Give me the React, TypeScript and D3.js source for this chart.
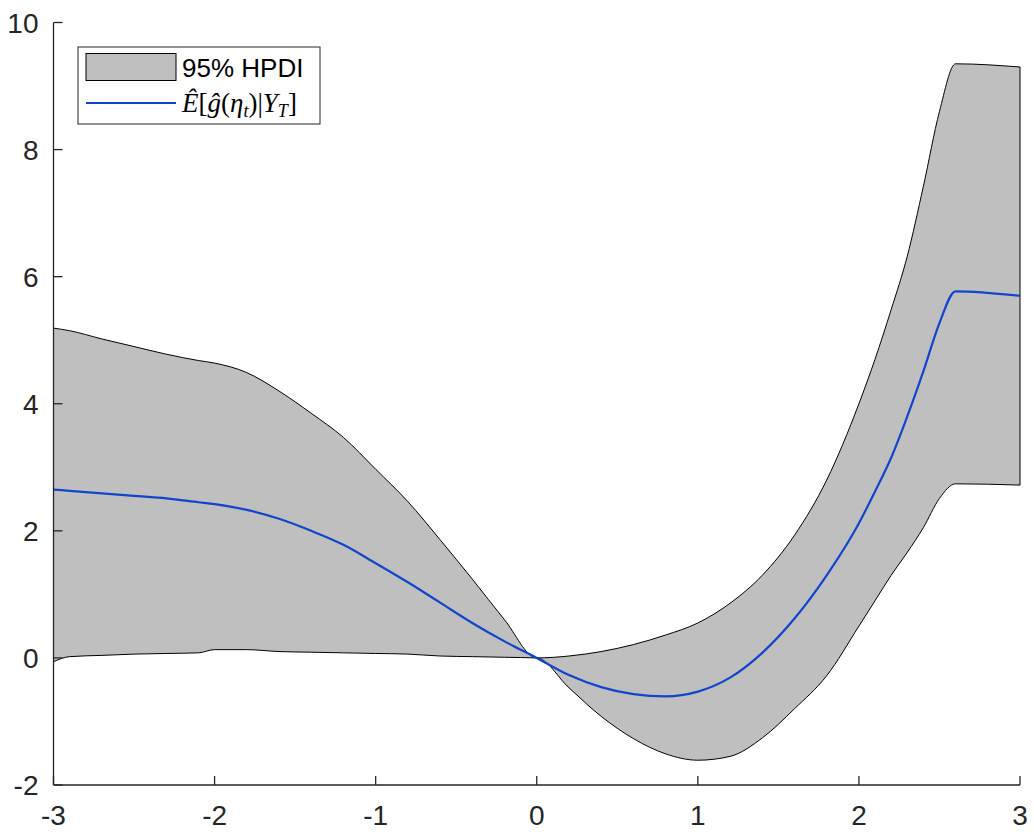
import React from "react";
import * as d3 from "d3";

const xs = [-3, -2.9, -2.7, -2.5, -2.3, -2.1, -2.0, -1.8, -1.6, -1.4, -1.2, -1.0, -0.8, -0.6, -0.4, -0.2, 0, 0.2, 0.4, 0.6, 0.8, 1.0, 1.2, 1.4, 1.6, 1.8, 2.0, 2.1, 2.2, 2.3, 2.4, 2.5, 2.6, 3.0];
const upper = [5.19, 5.15, 5.02, 4.9, 4.78, 4.68, 4.64, 4.49, 4.2, 3.85, 3.47, 2.97, 2.46, 1.86, 1.24, 0.6, 0, 0.03, 0.1, 0.21, 0.36, 0.55, 0.86, 1.3, 1.93, 2.8, 4.0, 4.7, 5.48, 6.32, 7.42, 8.6, 9.35, 9.3];
const lower = [-0.06, 0.02, 0.04, 0.06, 0.07, 0.08, 0.13, 0.13, 0.1, 0.09, 0.08, 0.07, 0.06, 0.03, 0.02, 0.01, 0, -0.47, -0.92, -1.27, -1.51, -1.61, -1.55, -1.26, -0.8, -0.28, 0.5, 0.9, 1.3, 1.66, 2.05, 2.51, 2.74, 2.72];
const mean = [2.65, 2.63, 2.59, 2.55, 2.51, 2.45, 2.42, 2.33, 2.19, 2.0, 1.78, 1.49, 1.19, 0.87, 0.55, 0.26, 0, -0.27, -0.46, -0.57, -0.605, -0.53, -0.31, 0.08, 0.62, 1.3, 2.12, 2.62, 3.15, 3.8, 4.51, 5.27, 5.77, 5.7];

const xTicks = [-3, -2, -1, 0, 1, 2, 3];
const yTicks = [-2, 0, 2, 4, 6, 8, 10];
const bandLabel = "95% HPDI";

export default function App() {
  const W = 1034, H = 838;
  const x = d3.scaleLinear().domain([-3, 3]).range([53.5, 1020]);
  const y = d3.scaleLinear().domain([-2, 10]).range([785, 22.5]);
  const axisColor = "#262626";
  const blue = "#1146cc";

  const area = d3
    .area<number>()
    .x((_, i) => x(xs[i]))
    .y0((_, i) => y(lower[i]))
    .y1((_, i) => y(upper[i]))
    .curve(d3.curveMonotoneX);

  const upPts: [number, number][] = xs.map((v, i) => [x(v), y(upper[i])]);
  const loPts: [number, number][] = xs.map((v, i) => [x(v), y(lower[i])]);
  const lineGen = d3.line().curve(d3.curveMonotoneX);
  const upPath = lineGen(upPts) || "";
  const loPath = lineGen(loPts) || "";
  const meanPath = lineGen(xs.map((v, i) => [x(v), y(mean[i])] as [number, number])) || "";

  const x0 = x(-3), x1 = x(3), yb = y(-2), yt = y(10);

  return (
    <svg width={W} height={H} style={{ position: "absolute", left: 0, top: 0, background: "#fff" }}>
      <path d={area(xs) || ""} fill="#bfbfbf" stroke="none" />
      <path d={upPath} fill="none" stroke="#000" strokeWidth={1} />
      <path d={loPath} fill="none" stroke="#000" strokeWidth={1} />
      <line x1={x1} x2={x1} y1={y(upper[upper.length - 1])} y2={y(lower[lower.length - 1])} stroke="#000" strokeWidth={1} />
      <line x1={x0} x2={x0} y1={y(upper[0])} y2={y(lower[0])} stroke="#000" strokeWidth={1} />
      <path d={meanPath} fill="none" stroke={blue} strokeWidth={2.2} />

      {/* axes */}
      <line x1={x0} x2={x0} y1={yt} y2={yb} stroke={axisColor} strokeWidth={1.3} />
      <line x1={x0} x2={x1} y1={yb} y2={yb} stroke={axisColor} strokeWidth={1.3} />
      {yTicks.map((t) => (
        <g key={"y" + t}>
          <line x1={x0} x2={x0 + 9} y1={y(t)} y2={y(t)} stroke={axisColor} strokeWidth={1.3} />
          <text x={x0 - 15} y={y(t)} dy="0.36em" textAnchor="end" fontFamily="Liberation Sans, Arial, sans-serif" fontSize={28} fill={axisColor}>
            {t}
          </text>
        </g>
      ))}
      {xTicks.map((t) => (
        <g key={"x" + t}>
          <line x1={x(t)} x2={x(t)} y1={yb} y2={yb - 9} stroke={axisColor} strokeWidth={1.3} />
          <text x={x(t)} y={yb + 40} textAnchor="middle" fontFamily="Liberation Sans, Arial, sans-serif" fontSize={28} fill={axisColor}>
            {t}
          </text>
        </g>
      ))}

      {/* legend */}
      <rect x={78} y={47} width={242} height={77} fill="#fff" stroke={axisColor} strokeWidth={1} />
      <rect x={86} y={53.5} width={90} height={27} fill="#bfbfbf" stroke="#000" strokeWidth={1} />
      <text x={182} y={77} fontFamily="Liberation Sans, Arial, sans-serif" fontSize={26} fill="#000">
        {bandLabel}
      </text>
      <line x1={86} x2={176} y1={103} y2={103} stroke={blue} strokeWidth={2.2} />
      <text x={182} y={112} fontFamily="Liberation Serif, DejaVu Serif, serif" fontSize={27} fill="#000" fontStyle="italic">
        Ê<tspan fontStyle="normal">[</tspan>ĝ<tspan fontStyle="normal">(</tspan>η<tspan fontSize={18} dy={5}>t</tspan>
        <tspan fontStyle="normal" dy={-5}>)|</tspan>Y<tspan fontSize={18} dy={5}>T</tspan>
        <tspan fontStyle="normal" dy={-5}>]</tspan>
      </text>
    </svg>
  );
}
